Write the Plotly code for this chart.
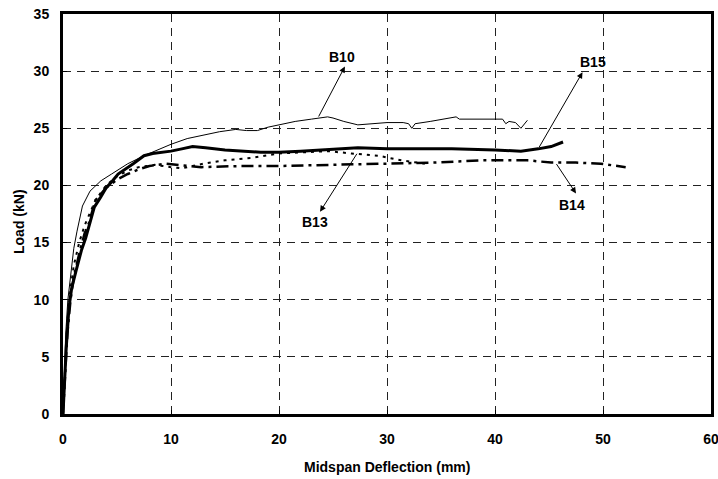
import plotly.graph_objects as go

# ---- data ----
b10_x = [0, 0.1, 0.25, 0.45, 0.75, 1.0, 1.3, 1.8, 2.5, 3.5, 4.5, 6, 7.5, 9, 10, 11.5, 13, 14.5, 16, 17, 18, 19, 20,
         21.5, 23, 24, 24.5, 25, 26, 27.3, 28.5, 30, 31.5, 32, 32.3, 32.6, 34, 36.4, 36.7, 38, 40.7, 41, 41.3, 41.9,
         42.4, 43]
b10_y = [0, 3, 7, 10, 12.5, 14.5, 16, 18.2, 19.5, 20.4, 21.0, 21.9, 22.6, 23.2, 23.6, 24.1, 24.4, 24.7, 24.9, 24.8,
         24.8, 25.1, 25.3, 25.6, 25.8, 25.9, 26.0, 25.9, 25.6, 25.3, 25.4, 25.5, 25.5, 25.4, 25.0, 25.4, 25.6, 26.0,
         25.8, 25.8, 25.8, 25.4, 25.6, 25.5, 25.0, 25.7]

b15_x = [0, 0.15, 0.3, 0.55, 0.8, 1.2, 1.7, 2.1, 2.9, 3.5, 4.0, 4.5, 5.1, 6.5, 7.5, 8.3, 10, 11, 12, 13.2, 15, 18.3,
         20, 22, 25, 27.3, 30, 33, 36, 40, 42.4, 44, 45.2, 46.3]
b15_y = [0, 3, 5.8, 9.3, 11, 12.5, 14.3, 15.4, 18.1, 19.0, 19.8, 20.3, 21.0, 21.9, 22.6, 22.8, 23.0, 23.2, 23.4, 23.3,
         23.1, 22.9, 22.9, 23.0, 23.2, 23.3, 23.2, 23.2, 23.2, 23.1, 23.0, 23.2, 23.4, 23.8]

b13_x = [0, 0.2, 0.4, 0.7, 1.0, 1.5, 2.0, 3.0, 4.0, 5.0, 6.0, 7.0, 8.5, 10, 11, 12, 13, 15, 17.4, 20, 22, 24.5,
         26.7, 29.2, 31.3, 32.5, 33.5]
b13_y = [0, 4, 8, 11, 13, 15, 16.5, 18.7, 20.0, 20.8, 21.3, 21.6, 21.8, 21.6, 21.5, 21.7, 21.9, 22.2, 22.4, 22.8,
         22.9, 23.0, 22.8, 22.6, 22.2, 22.0, 21.9]

b14_x = [0, 0.2, 0.4, 0.7, 1.0, 1.5, 2.0, 2.4, 3.0, 4.0, 5.0, 6.0, 7.0, 8.0, 9.5, 12.8, 16.5, 20, 26, 30, 34.4,
         38.7, 40, 43, 45.2, 47.5, 49.8, 52.1]
b14_y = [0, 3.5, 7, 10, 12, 14, 15.8, 16.7, 18.7, 19.8, 20.5, 21.0, 21.4, 21.7, 21.9, 21.6, 21.7, 21.7, 21.8, 21.9,
         22.0, 22.2, 22.2, 22.2, 22.0, 22.0, 21.9, 21.6]

# labels: name, text position, arrow tail (on curve), arrow head (near label)
labels = ["B10", "B15", "B13", "B14"]
label_pos = [(25.8, 31.2), (49.1, 30.8), (23.3, 16.8), (47.1, 18.3)]
arrow_tail = [(23.6, 25.9), (44.0, 23.2), (27.3, 22.9), (45.6, 22.0)]
arrow_head = [(26.1, 30.4), (48.1, 29.9), (23.8, 17.7), (47.5, 19.3)]

x_ticks = [0, 10, 20, 30, 40, 50, 60]
y_ticks = [0, 5, 10, 15, 20, 25, 30, 35]
x_title = "Midspan Deflection (mm)"
y_title = "Load (kN)"

fig = go.Figure()
fig.add_trace(go.Scatter(x=b14_x, y=b14_y, mode="lines",
                         line=dict(color="black", width=2.5, dash="12px,5px,3px,5px"), name="B14"))
fig.add_trace(go.Scatter(x=b13_x, y=b13_y, mode="lines",
                         line=dict(color="black", width=2, dash="3px,5px"), name="B13"))
fig.add_trace(go.Scatter(x=b10_x, y=b10_y, mode="lines",
                         line=dict(color="black", width=1), name="B10"))
fig.add_trace(go.Scatter(x=b15_x, y=b15_y, mode="lines",
                         line=dict(color="black", width=3), name="B15"))

font_bold = dict(family="Liberation Sans, Arial, sans-serif", size=14, color="black", weight="bold")

for name, (tx, ty), (ax_, ay_), (hx, hy) in zip(labels, label_pos, arrow_tail, arrow_head):
    fig.add_annotation(x=tx, y=ty, text=name, showarrow=False, font=font_bold)
    fig.add_annotation(x=hx, y=hy, ax=ax_, ay=ay_, xref="x", yref="y", axref="x", ayref="y",
                       text="", showarrow=True, arrowhead=2, arrowsize=1.2, arrowwidth=1, arrowcolor="black")

# axis titles
fig.add_annotation(x=0.5, y=-0.1325, xref="paper", yref="paper", text=x_title, showarrow=False,
                   font=font_bold, xanchor="center", yanchor="middle")
fig.add_annotation(x=-0.0679, y=0.48, xref="paper", yref="paper", text=y_title, showarrow=False,
                   font=font_bold, textangle=-90, xanchor="center", yanchor="middle")

fig.update_layout(
    width=718, height=479,
    margin=dict(l=63, r=7, t=14, b=65, autoexpand=False),
    paper_bgcolor="white", plot_bgcolor="white",
    showlegend=False,
    font=font_bold,
)
fig.update_xaxes(range=[0, 60], tickvals=x_ticks, ticktext=[str(v) for v in x_ticks],
                 showline=True, linewidth=3, linecolor="black", mirror=True,
                 showgrid=True, gridcolor="#222222", gridwidth=1, griddash="8px,6px",
                 ticks="inside", ticklen=4, tickcolor="black", zeroline=False,
                 tickfont=font_bold, automargin=False, ticklabelstandoff=10,
                 ticklabeloverflow="allow")
fig.update_yaxes(range=[0, 35], tickvals=y_ticks, ticktext=[str(v) for v in y_ticks],
                 showline=True, linewidth=3, linecolor="black", mirror=True,
                 showgrid=True, gridcolor="#222222", gridwidth=1, griddash="8px,6px",
                 ticks="inside", ticklen=4, tickcolor="black", zeroline=False,
                 tickfont=font_bold, automargin=False, ticklabelstandoff=8,
                 ticklabeloverflow="allow")

# remove the default 8px page margin so the figure fills the 718x479 window; hide the mode bar
fig.write_html("out.html", config={"displayModeBar": False},
               post_script="document.body.style.margin='0px';")
